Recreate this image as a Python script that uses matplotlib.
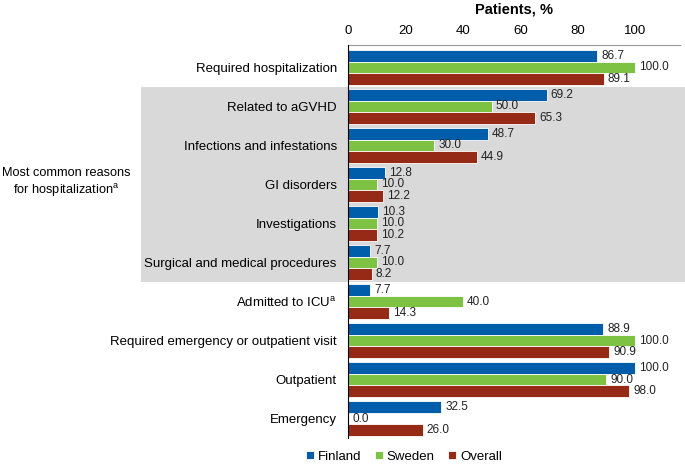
import matplotlib
matplotlib.use("Agg")
import matplotlib.pyplot as plt
import numpy as np
from matplotlib.patches import Rectangle
import matplotlib.transforms as mtransforms

plt.rcParams['font.family'] = ['Liberation Sans', 'DejaVu Sans']
plt.rcParams['mathtext.fontset'] = 'custom'
plt.rcParams['mathtext.rm'] = 'Liberation Sans'
plt.rcParams['mathtext.it'] = 'Liberation Sans'

categories = ["Required hospitalization", "Related to aGVHD", "Infections and infestations",
              "GI disorders", "Investigations", "Surgical and medical procedures",
              r"Admitted to ICU$^{\mathrm{a}}$", "Required emergency or outpatient visit",
              "Outpatient", "Emergency"]
finland = [86.7, 69.2, 48.7, 12.8, 10.3, 7.7, 7.7, 88.9, 100.0, 32.5]
sweden = [100.0, 50.0, 30.0, 10.0, 10.0, 10.0, 40.0, 100.0, 90.0, 0.0]
overall = [89.1, 65.3, 44.9, 12.2, 10.2, 8.2, 14.3, 90.9, 98.0, 26.0]
series = [("Finland", finland, "#005daa"), ("Sweden", sweden, "#7dc242"), ("Overall", overall, "#952a16")]

fig = plt.figure(figsize=(6.85, 4.66), dpi=100)
ax = fig.add_axes([0.508, 0.06, 0.485, 0.843])
ax.set_facecolor('none')

y = np.arange(len(categories))
h = 0.295
for i, (name, vals, col) in enumerate(series):
    bars = ax.barh(y + (i - 1) * h, vals, height=h, color=col, edgecolor='white',
                   linewidth=0.6, label=name, zorder=3)
    ax.bar_label(bars, labels=[f"{v:.1f}" for v in vals], padding=3, fontsize=8.5, color='#222222')

ax.set_ylim(len(categories) - 0.5 + 0.0, -0.57)
ax.set_xlim(0, 115.7)
ax.set_yticks(y)
ax.set_yticklabels(categories, fontsize=9.5)
ax.tick_params(axis='y', length=0, pad=8)
ax.xaxis.tick_top()
ax.set_xticks([0, 20, 40, 60, 80, 100])
ax.tick_params(axis='x', length=0, labelsize=9.5, pad=6)
ax.set_xlabel("Patients, %", fontsize=10.5, fontweight='bold', labelpad=8)
ax.xaxis.set_label_position('top')
for s in ['right', 'bottom']:
    ax.spines[s].set_visible(False)
ax.spines['top'].set_color('#999999')
ax.spines['left'].set_color('black')
ax.spines['left'].set_zorder(4)

# gray band behind the hospitalization reasons
trans = mtransforms.blended_transform_factory(fig.transFigure, ax.transData)
fig.patches.append(Rectangle((0.206, 0.5), 0.794, 5.0, transform=trans,
                             facecolor='#d9d9d9', edgecolor='none', zorder=-1))

fig.text(0.097, 1 - 183 / 466, "Most common reasons\nfor hospitalization$^{\\mathrm{a}}$",
         ha='center', va='center', fontsize=9.2, linespacing=1.2)

handles, labels = ax.get_legend_handles_labels()
fig.legend(handles, labels, loc='center', bbox_to_anchor=(0.59, 0.02), ncol=3, frameon=False,
           fontsize=9.5, handlelength=0.6, handleheight=0.6, handletextpad=0.3, columnspacing=1.0,
           borderpad=0.1)

fig.savefig("out.png", dpi=100)
